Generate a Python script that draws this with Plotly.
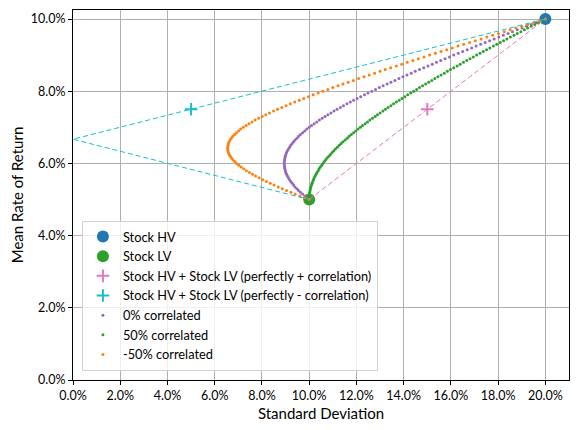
# efficient frontier of two stocks (HV = high volatility, LV = low volatility)
# portfolio points for 3 correlation levels, weight of HV going 0 -> 1 in 1% steps

import plotly.graph_objs as go

# single stocks  (std dev %, mean return %)
hv_sd = [20.0]
hv_mean = [10.0]
lv_sd = [10.0]
lv_mean = [5.0]

# 50/50 portfolio with perfect +/- correlation
pos_corr_sd = [15.0]
pos_corr_mean = [7.5]
neg_corr_sd = [5.0]
neg_corr_mean = [7.5]

# dashed lines, perfect correlation
pos_line_sd = [10.0, 20.0]
pos_line_mean = [5.0, 10.0]
neg_line_sd = [20.0, 0.0, 10.0]
neg_line_mean = [10.0, 6.67, 5.0]

mean_return = [
    5.00, 5.05, 5.10, 5.15, 5.20, 5.25, 5.30, 5.35, 5.40, 5.45, 5.50,
    5.55, 5.60, 5.65, 5.70, 5.75, 5.80, 5.85, 5.90, 5.95, 6.00,
    6.05, 6.10, 6.15, 6.20, 6.25, 6.30, 6.35, 6.40, 6.45, 6.50,
    6.55, 6.60, 6.65, 6.70, 6.75, 6.80, 6.85, 6.90, 6.95, 7.00,
    7.05, 7.10, 7.15, 7.20, 7.25, 7.30, 7.35, 7.40, 7.45, 7.50,
    7.55, 7.60, 7.65, 7.70, 7.75, 7.80, 7.85, 7.90, 7.95, 8.00,
    8.05, 8.10, 8.15, 8.20, 8.25, 8.30, 8.35, 8.40, 8.45, 8.50,
    8.55, 8.60, 8.65, 8.70, 8.75, 8.80, 8.85, 8.90, 8.95, 9.00,
    9.05, 9.10, 9.15, 9.20, 9.25, 9.30, 9.35, 9.40, 9.45, 9.50,
    9.55, 9.60, 9.65, 9.70, 9.75, 9.80, 9.85, 9.90, 9.95, 10.00]

sd_corr0 = [
    10.00, 9.90, 9.81, 9.72, 9.63, 9.55, 9.48, 9.40, 9.34, 9.28, 9.22,
    9.17, 9.12, 9.08, 9.04, 9.01, 8.99, 8.97, 8.96, 8.95, 8.94,
    8.95, 8.96, 8.97, 8.99, 9.01, 9.04, 9.08, 9.12, 9.17, 9.22,
    9.28, 9.34, 9.40, 9.48, 9.55, 9.63, 9.72, 9.81, 9.90, 10.00,
    10.10, 10.21, 10.32, 10.43, 10.55, 10.67, 10.79, 10.92, 11.05, 11.18,
    11.32, 11.45, 11.60, 11.74, 11.88, 12.03, 12.18, 12.34, 12.49, 12.65,
    12.81, 12.97, 13.13, 13.30, 13.46, 13.63, 13.80, 13.97, 14.14, 14.32,
    14.49, 14.67, 14.85, 15.03, 15.21, 15.39, 15.57, 15.75, 15.94, 16.12,
    16.31, 16.50, 16.69, 16.88, 17.07, 17.26, 17.45, 17.64, 17.83, 18.03,
    18.22, 18.42, 18.61, 18.81, 19.01, 19.20, 19.40, 19.60, 19.80, 20.00]

sd_corr50 = [
    10.00, 10.00, 10.01, 10.01, 10.02, 10.04, 10.05, 10.07, 10.10, 10.12, 10.15,
    10.18, 10.21, 10.25, 10.29, 10.33, 10.38, 10.42, 10.47, 10.53, 10.58,
    10.64, 10.70, 10.76, 10.83, 10.90, 10.97, 11.04, 11.11, 11.19, 11.27,
    11.35, 11.43, 11.52, 11.61, 11.69, 11.78, 11.88, 11.97, 12.07, 12.17,
    12.26, 12.37, 12.47, 12.57, 12.68, 12.79, 12.89, 13.00, 13.12, 13.23,
    13.34, 13.46, 13.57, 13.69, 13.81, 13.93, 14.05, 14.17, 14.30, 14.42,
    14.55, 14.67, 14.80, 14.93, 15.06, 15.19, 15.32, 15.45, 15.58, 15.72,
    15.85, 15.98, 16.12, 16.26, 16.39, 16.53, 16.67, 16.81, 16.95, 17.09,
    17.23, 17.37, 17.51, 17.65, 17.80, 17.94, 18.09, 18.23, 18.37, 18.52,
    18.67, 18.81, 18.96, 19.11, 19.25, 19.40, 19.55, 19.70, 19.85, 20.00]

sd_corr_neg50 = [
    10.00, 9.80, 9.61, 9.41, 9.23, 9.04, 8.86, 8.69, 8.51, 8.35, 8.19,
    8.03, 7.88, 7.73, 7.60, 7.47, 7.34, 7.23, 7.12, 7.02, 6.93,
    6.85, 6.77, 6.71, 6.66, 6.61, 6.58, 6.56, 6.55, 6.55, 6.56,
    6.58, 6.61, 6.65, 6.70, 6.76, 6.84, 6.92, 7.01, 7.10, 7.21,
    7.33, 7.45, 7.58, 7.71, 7.86, 8.01, 8.16, 8.32, 8.49, 8.66,
    8.84, 9.02, 9.20, 9.39, 9.58, 9.77, 9.97, 10.17, 10.38, 10.58,
    10.79, 11.00, 11.22, 11.43, 11.65, 11.87, 12.09, 12.32, 12.54, 12.77,
    13.00, 13.22, 13.45, 13.69, 13.92, 14.15, 14.39, 14.62, 14.86, 15.10,
    15.34, 15.58, 15.82, 16.06, 16.30, 16.54, 16.79, 17.03, 17.28, 17.52,
    17.77, 18.01, 18.26, 18.51, 18.75, 19.00, 19.25, 19.50, 19.75, 20.00]

data = [
    go.Scatter(x=hv_sd, y=hv_mean, mode='markers', name='Stock HV',
               marker=dict(color='#1f77b4', size=12)),
    go.Scatter(x=lv_sd, y=lv_mean, mode='markers', name='Stock LV',
               marker=dict(color='#2ca02c', size=12)),
    go.Scatter(x=pos_corr_sd, y=pos_corr_mean, mode='markers',
               name='Stock HV + Stock LV (perfectly + correlation)',
               marker=dict(color='#e377c2', size=9, symbol='cross-thin',
                           line=dict(color='#e377c2', width=2))),
    go.Scatter(x=neg_corr_sd, y=neg_corr_mean, mode='markers',
               name='Stock HV + Stock LV (perfectly - correlation)',
               marker=dict(color='#17becf', size=9, symbol='cross-thin',
                           line=dict(color='#17becf', width=2))),
    go.Scatter(x=sd_corr0, y=mean_return, mode='markers', name='0% correlated',
               marker=dict(color='#9467bd', size=3)),
    go.Scatter(x=sd_corr50, y=mean_return, mode='markers', name='50% correlated',
               marker=dict(color='#2ca02c', size=3)),
    go.Scatter(x=sd_corr_neg50, y=mean_return, mode='markers', name='-50% correlated',
               marker=dict(color='#ff7f0e', size=3)),
    go.Scatter(x=pos_line_sd, y=pos_line_mean, mode='lines', showlegend=False,
               line=dict(color='#e377c2', width=1, dash='5px,3px')),
    go.Scatter(x=neg_line_sd, y=neg_line_mean, mode='lines', showlegend=False,
               line=dict(color='#17becf', width=1, dash='5px,3px')),
]

axis_style = dict(showgrid=True, gridcolor='#b0b0b0', gridwidth=0.8,
                  showline=True, linecolor='black', linewidth=1, mirror=True,
                  ticks='outside', ticklen=4, tickcolor='black',
                  ticksuffix='%', tickformat='.1f', zeroline=False,
                  automargin=False, tickfont=dict(size=12.5, color='black'))

# page body has an 8px margin, so the figure is drawn 8px smaller
layout = go.Layout(
    width=570, height=422,
    margin=dict(l=65, r=9, t=2, b=50),
    paper_bgcolor='white', plot_bgcolor='white',
    font=dict(family='Lato, sans-serif', size=12.5, color='black'),
    xaxis=dict(axis_style, range=[0, 21], dtick=2, tick0=0,
               title=dict(text='Standard Deviation', standoff=6)),
    yaxis=dict(axis_style, range=[0, 10.25], dtick=2, tick0=0,
               title=dict(text='Mean Rate of Return', standoff=8)),
    legend=dict(x=0.018, y=0.025, xanchor='left', yanchor='bottom',
                bgcolor='rgba(255,255,255,0.8)', bordercolor='#d0d0d0',
                borderwidth=1, font=dict(size=12.8), tracegroupgap=0),
)

fig = go.Figure(data=data, layout=layout)
fig.write_html("out.html")
